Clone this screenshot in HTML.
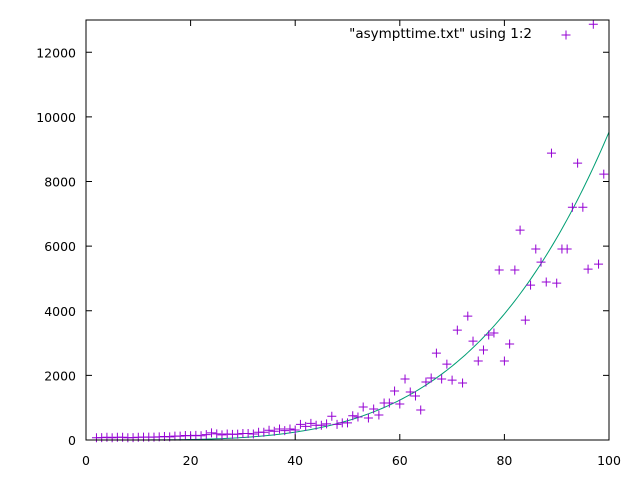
<!DOCTYPE html>
<html><head><meta charset="utf-8"><style>
html,body{margin:0;padding:0;background:#fff;}
svg{display:block;font-family:"DejaVu Sans","Liberation Sans",sans-serif;}
</style></head><body>
<svg id="chart" width="640" height="480" xmlns="http://www.w3.org/2000/svg">
<rect width="640" height="480" fill="#fff"/>
<g id="grid"></g>
<g id="curve"></g>
<g id="pts"></g>
<rect x="86" y="20" width="523" height="420" fill="none" stroke="#000" stroke-width="1"/>
<text x="532" y="38" text-anchor="end" font-size="13.5" fill="#000">"asympttime.txt" using 1:2</text>
<g><path d="M561.5 35h9M566 30.5v9" stroke="#9400d3" stroke-width="1"/></g>
</svg>
<script>
const xTicks=[0,20,40,60,80,100];
const yTicks=[0,2000,4000,6000,8000,10000,12000];
const xs=[2,3,4,5,6,7,8,9,10,11,12,13,14,15,16,17,18,19,20,21,22,23,24,25,26,27,28,29,30,31,32,33,34,35,36,37,38,39,40,41,42,43,44,45,46,47,48,49,50,51,52,53,54,55,56,57,58,59,60,61,62,63,64,65,66,67,68,69,70,71,72,73,74,75,76,77,78,79,80,81,82,83,84,85,86,87,88,89,90,91,92,93,94,95,96,97,98,99];
const ys=[70,75,85,70,85,85,70,75,85,90,90,90,95,110,95,120,120,140,130,145,130,165,220,190,160,185,175,180,200,200,185,240,240,300,270,340,290,340,310,485,420,515,455,455,500,735,485,530,530,750,710,1020,680,960,775,1145,1145,1515,1115,1890,1485,1360,930,1795,1920,2690,1890,2350,1855,3400,1765,3835,3060,2445,2785,3250,3310,5260,2445,2970,5260,6495,3710,4795,5910,5505,4890,8880,4855,5910,5910,7205,8570,7205,5290,12870,5445,8230];
const fitCoef=[9.53e-5];
const fitPow=[4];
const X0=86,X1=609,Y0=440,Y1=20,XMAX=100,YMAX=13000;
function sx(v){return X0+(X1-X0)*v/XMAX;}
function sy(v){return Y0-(Y0-Y1)*v/YMAX;}
const NS="http://www.w3.org/2000/svg";
const g=document.getElementById('grid');
xTicks.forEach(t=>{
  const p=document.createElementNS(NS,'path');
  p.setAttribute('d',`M${sx(t)} ${Y0}v-6M${sx(t)} ${Y1}v6`);
  p.setAttribute('stroke','#000');
  
  
  g.appendChild(p);
  const tx=document.createElementNS(NS,'text');
  tx.setAttribute('x',sx(t));tx.setAttribute('y',465);tx.setAttribute('text-anchor','middle');tx.setAttribute('font-size','12.5');
  tx.textContent=t;
  
  
  g.appendChild(tx);
});
yTicks.forEach(t=>{
  const p=document.createElementNS(NS,'path');
  p.setAttribute('d',`M${X0} ${sy(t)}h6M${X1} ${sy(t)}h-6`);
  p.setAttribute('stroke','#000');
  
  
  g.appendChild(p);
  const tx=document.createElementNS(NS,'text');
  tx.setAttribute('x',76);tx.setAttribute('y',sy(t)+5);tx.setAttribute('text-anchor','end');tx.setAttribute('font-size','12.5');
  tx.textContent=t;
  
  
  g.appendChild(tx);
});
let d='';
for(let x=0;x<=XMAX;x+=0.5){const y=fitCoef[0]*Math.pow(x,fitPow[0]);d+=(x?'L':'M')+sx(x).toFixed(2)+' '+Math.max(sy(y),Y1).toFixed(2);}
const c=document.createElementNS(NS,'path');
c.setAttribute('d',d);c.setAttribute('fill','none');c.setAttribute('stroke','#009e73');c.setAttribute('stroke-width','1');


document.getElementById('curve').appendChild(c);
const pg=document.getElementById('pts');
xs.forEach((x,i)=>{
  const px=sx(x),py=sy(ys[i]);
  const p=document.createElementNS(NS,'path');
  p.setAttribute('d',`M${px-4.5} ${py}h9M${px} ${py-4.5}v9`);
  p.setAttribute('stroke','#9400d3');p.setAttribute('stroke-width','1');
  
  
  pg.appendChild(p);
});
</script>
</body></html>
